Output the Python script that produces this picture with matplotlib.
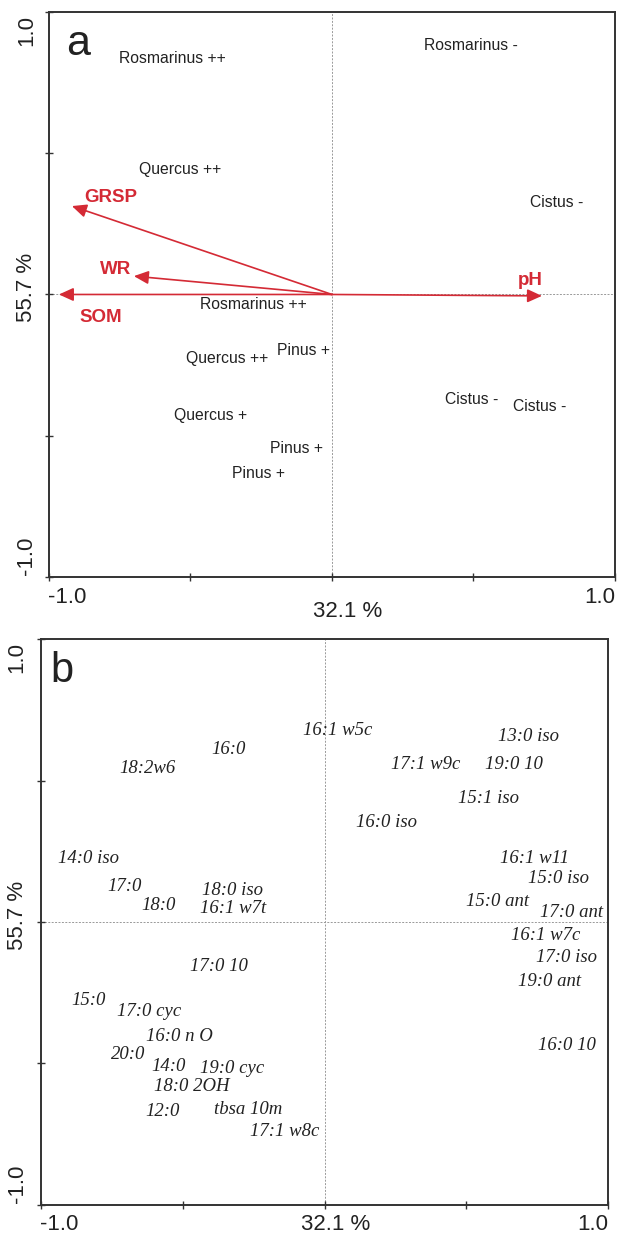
import matplotlib
matplotlib.use("Agg")
from matplotlib import pyplot as plt

RED = "#d42a35"
INK = "#222222"

# ordination scores, panel a (sites)
site_names = ["Rosmarinus ++", "Rosmarinus -", "Quercus ++", "Cistus -",
              "Rosmarinus ++", "Pinus +", "Quercus ++", "Quercus +",
              "Cistus -", "Cistus -", "Pinus +", "Pinus +"]
site_x = [-0.565, 0.491, -0.537, 0.795, -0.279, -0.102, -0.371, -0.428,
          0.495, 0.735, -0.124, -0.261]
site_y = [0.834, 0.880, 0.444, 0.324, -0.037, -0.200, -0.228, -0.427,
          -0.373, -0.398, -0.547, -0.632]

# soil variables (arrows)
env_names = ["GRSP", "WR", "SOM", "pH"]
env_x = [-0.919, -0.700, -0.965, 0.742]
env_y = [0.313, 0.065, 0.0, -0.005]
env_label_x = [-0.781, -0.763, -0.816, 0.700]
env_label_y = [0.345, 0.090, -0.080, 0.048]

# panel b (PLFA markers)
fa_names = ["18:2w6", "16:0", "14:0 iso", "17:0", "18:0", "18:0 iso",
            "16:1 w7t", "16:1 w5c", "13:0 iso", "17:1 w9c", "19:0 10",
            "15:1 iso", "16:0 iso", "16:1 w11", "15:0 iso", "15:0 ant",
            "17:0 ant", "16:1 w7c", "17:0 iso", "19:0 ant", "16:0 10",
            "17:0 10", "15:0", "17:0 cyc", "16:0 n O", "20:0", "14:0",
            "19:0 cyc", "18:0 2OH", "12:0", "tbsa 10m", "17:1 w8c"]
fa_x = [-0.623, -0.340, -0.831, -0.704, -0.584, -0.323, -0.323, 0.048,
        0.718, 0.358, 0.668, 0.577, 0.217, 0.739, 0.824, 0.612, 0.873,
        0.781, 0.852, 0.792, 0.855, -0.372, -0.831, -0.619, -0.513,
        -0.693, -0.549, -0.326, -0.467, -0.570, -0.270, -0.139]
fa_y = [0.541, 0.608, 0.226, 0.124, 0.057, 0.113, 0.049, 0.678, 0.657,
        0.558, 0.558, 0.435, 0.353, 0.226, 0.155, 0.074, 0.032, -0.049,
        -0.127, -0.212, -0.435, -0.159, -0.276, -0.318, -0.406, -0.470,
        -0.509, -0.516, -0.583, -0.671, -0.661, -0.742]

x_axis_label = "32.1 %"
y_axis_label = "55.7 %"

SANS = "Liberation Sans"
SERIF = "Liberation Serif"

fig = plt.figure(figsize=(6.17, 12.36), dpi=100)
ax_a = fig.add_axes([0.0794, 0.5332, 0.9173, 0.4571])
ax_b = fig.add_axes([0.0665, 0.0251, 0.9190, 0.4579])


def frame(ax, xlab_pos, ylab_pos):
    ax.set_xlim(-1, 1)
    ax.set_ylim(-1, 1)
    ax.set_xticks([-1, -0.5, 0, 0.5, 1])
    ax.set_yticks([-1, -0.5, 0, 0.5, 1])
    ax.set_xticklabels([])
    ax.set_yticklabels([])
    ax.tick_params(direction="inout", length=6, width=1.0, color="#333333")
    for s in ax.spines.values():
        s.set_color("#333333")
        s.set_linewidth(1.4)
    ax.axhline(0, color="#999999", lw=0.7, ls=(0, (2, 1.5)), zorder=0)
    ax.axvline(0, color="#999999", lw=0.7, ls=(0, (2, 1.5)), zorder=0)
    kw = dict(transform=ax.transAxes, fontsize=16, family=SANS, color=INK)
    ty, cx, cy = xlab_pos
    ax.text(-0.002, ty, "-1.0", ha="left", va="center", **kw)
    ax.text(1.0, ty, "1.0", ha="right", va="center", **kw)
    ax.text(cx, cy, x_axis_label, ha="center", va="center", **kw)
    lx, ly = ylab_pos
    ax.text(lx, 0.995, "1.0", ha="center", va="top", rotation=90, **kw)
    ax.text(lx, 0.004, "-1.0", ha="center", va="bottom", rotation=90, **kw)
    ax.text(lx, ly, y_axis_label, ha="center", va="center", rotation=90, **kw)


# panel a: sites and soil variable arrows
frame(ax_a, (-0.037, 0.527, -0.062), (-0.039, 0.513))
ax_a.text(0.030, 0.924, "a", transform=ax_a.transAxes, fontsize=31,
          family=SANS, color=INK, va="baseline")
for name, x, y in zip(site_names, site_x, site_y):
    ax_a.text(x, y, name, ha="center", va="center", fontsize=11.3,
              family=SANS, color=INK)
for name, x, y, lx, ly in zip(env_names, env_x, env_y, env_label_x, env_label_y):
    ax_a.annotate("", xy=(x, y), xytext=(0, 0),
                  arrowprops=dict(arrowstyle="-|>,head_length=0.55,head_width=0.25",
                                  color=RED, lw=1.2, mutation_scale=16,
                                  shrinkA=0, shrinkB=0))
    ax_a.text(lx, ly, name, ha="center", va="center", fontsize=13.5,
              fontweight="bold", family=SANS, color=RED)

# panel b: fatty acid scores
frame(ax_b, (-0.035, 0.520, -0.035), (-0.042, 0.512))
ax_b.text(0.016, 0.924, "b", transform=ax_b.transAxes, fontsize=30,
          family=SANS, color=INK, va="baseline")
for name, x, y in zip(fa_names, fa_x, fa_y):
    ax_b.text(x, y, name, ha="center", va="center", fontsize=13.5,
              family=SERIF, style="italic", color=INK)

fig.savefig("out.png", dpi=100)
